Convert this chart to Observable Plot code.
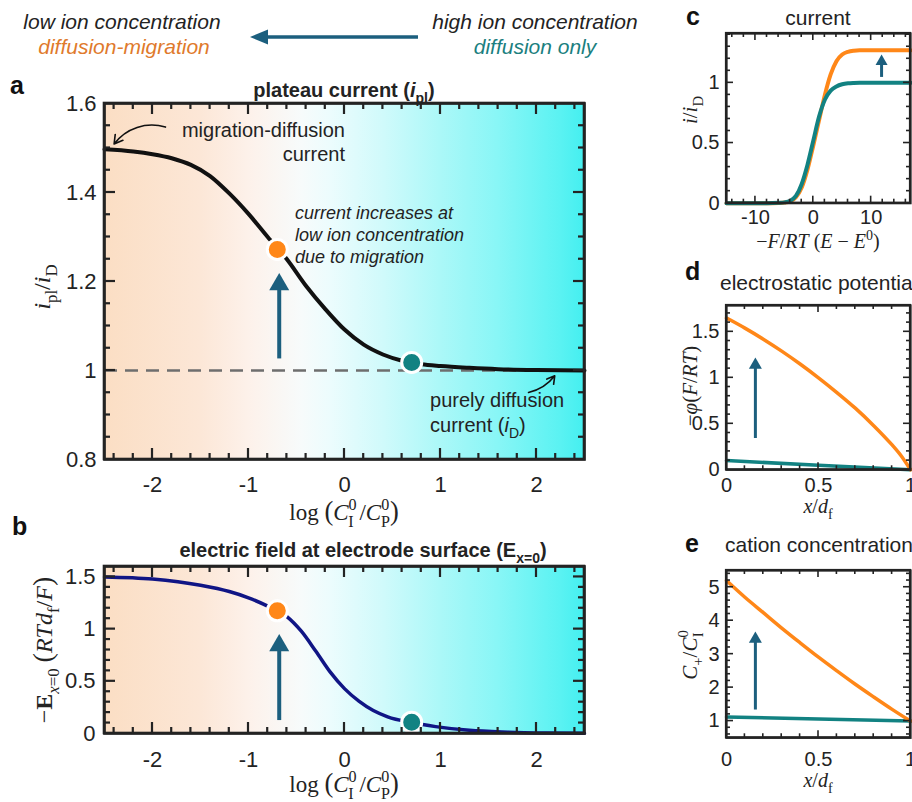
<!DOCTYPE html>
<html><head><meta charset="utf-8">
<script src="https://cdn.jsdelivr.net/npm/d3@7"></script>
<script src="https://cdn.jsdelivr.net/npm/@observablehq/plot@0.6"></script>
<style>
body{margin:0;background:#fff;}
#root{position:relative;width:912px;height:802px;overflow:hidden;background:#fff;}
</style></head><body><div id="root"></div>
<script>
// ---------------- data ----------------
// panel a: plateau current i_pl/i_D vs log(C_I0/C_P0)
const logRatioA = [-2.5,-2.2,-2.0,-1.8,-1.6,-1.4,-1.2,-1.0,-0.8,-0.6,-0.4,-0.2,0,0.2,0.4,0.6,0.8,1.0,1.3,1.6,2.0,2.5];
const plateauA  = [1.497,1.492,1.486,1.477,1.462,1.437,1.398,1.352,1.300,1.250,1.190,1.138,1.092,1.058,1.036,1.022,1.014,1.010,1.006,1.003,1.001,1.000];
const refLineA = [1];
// panel b: electric field at electrode surface
const logRatioB = [-2.5,-2.0,-1.5,-1.2,-1.0,-0.8,-0.6,-0.45,-0.3,-0.15,0,0.15,0.3,0.45,0.7,0.95,1.3,1.7,2.1,2.5];
const fieldB    = [1.50,1.48,1.42,1.36,1.30,1.22,1.12,0.98,0.79,0.59,0.43,0.31,0.22,0.16,0.105,0.066,0.030,0.013,0.005,0.002];
// highlighted cases (low / high ion concentration)
const caseLog = [-0.7, 0.7];
const casePlateau = [1.272, 1.018];
const caseField = [1.175, 0.108];
// panel c: current vs -F/RT (E-E0)
const potentialC   = [-15,-8,-6,-5,-4,-3,-2,-1,0,1,2,3,4,5,6,7,8,10,16.8];
const currentHighC = [0,0,0.003,0.007,0.02,0.06,0.16,0.32,0.52,0.72,0.86,0.935,0.97,0.988,0.996,0.999,1,1,1];
const currentLowC  = [0,0,0.002,0.005,0.015,0.05,0.13,0.28,0.48,0.69,0.90,1.07,1.18,1.235,1.258,1.267,1.27,1.27,1.27];
// panel d: electrostatic potential vs x/d_f
const posD = [0,0.1,0.2,0.3,0.4,0.5,0.6,0.7,0.8,0.9,0.95,1];
const potLowD = [1.65,1.54,1.42,1.29,1.15,1.0,0.84,0.67,0.48,0.27,0.15,0.0];
const posHighD = [0,0.5,1];
const potHighD = [0.10,0.05,0.0];
// panel e: cation concentration vs x/d_f
const posE = [0,0.1,0.2,0.3,0.4,0.5,0.6,0.7,0.8,0.9,1];
const cationLowE = [5.2,4.7,4.24,3.78,3.34,2.91,2.5,2.1,1.72,1.35,1.0];
const posHighE = [0,0.5,1];
const cationHighE = [1.12,1.06,1.0];
// annotation arrows (x, base, tip)
const arrowAX = [-0.68], arrowABase = [1.026], arrowATip = [1.219];
const arrowBX = [-0.68], arrowBBase = [0.124], arrowBTip = [0.953];
const arrowCX = [11.8], arrowCBase = [1.045], arrowCTip = [1.235];
const arrowDX = [0.157], arrowDBase = [0.34], arrowDTip = [1.22];
const arrowEX = [0.157], arrowEBase = [1.33], arrowETip = [3.68];
// tick labels
const xTicksAB = [-2,-1,0,1,2];
const yTicksA = [0.8,1,1.2,1.4,1.6];
const yTicksB = [0,0.5,1,1.5];
const xTicksC = [-10,0,10];
const yTicksC = [0,0.5,1];
const xTicksDE = [0,0.5,1];
const yTicksD = [0,0.5,1,1.5];
const yTicksE = [1,2,3,4,5];
// background gradient (orange = low ion conc., cyan = high)
const bgLog = [-2.5,-1.5,-1.0,-0.45,-0.15,0.4,1.0,1.6,2.25,2.5];
const bgColor = ["#fbdec4","#fce7d7","#fdf1ea","#f7fbfb","#ecfcfd","#d0fafb","#abf8f8","#88f6f6","#5af2f2","#44eff0"];

// ---------------- style ----------------
const SANS = '"Liberation Sans", Arial, Helvetica, sans-serif';
const SERIF = '"Liberation Serif", "Times New Roman", serif';
const INK = "#232323";
const ORANGE = "#ff8718", TEAL = "#128282", NAVY = "#101585", ARROW = "#1c5f7e";
const ns = "http://www.w3.org/2000/svg";
const root = document.getElementById("root");

function minorTicks(domain, step, majors) {
  const n0 = Math.ceil(domain[0] / step - 1e-9), n1 = Math.floor(domain[1] / step + 1e-9);
  return d3.range(n0, n1 + 1).map(i => +(i * step).toFixed(6))
    .filter(v => !majors.some(m => Math.abs(m - v) < 1e-9));
}

// inward box ticks on all four sides, positioned with the plot's own scales
function drawBoxTicks(svg, o) {
  const sx = svg.scale("x"), sy = svg.scale("y");
  const [x0, x1] = o.xDomain, [y0, y1] = o.yDomain;
  const X0 = sx.apply(x0), X1 = sx.apply(x1), Yb = sy.apply(y0), Yt = sy.apply(y1);
  const xMinor = minorTicks(o.xDomain, o.xMinorStep, o.xMajor).filter(v => v > x0 && v < x1);
  const yMinor = minorTicks(o.yDomain, o.yMinorStep, o.yMajor).filter(v => v > y0 && v < y1);
  const xMaj = o.xMajor.filter(v => v > x0 && v < x1);
  const yMaj = o.yMajor.filter(v => v > y0 && v < y1);
  const g = document.createElementNS(ns, "g");
  g.setAttribute("stroke", INK);
  g.setAttribute("stroke-width", o.tickW);
  g.setAttribute("fill", "none");
  const seg = (a, b, c, d) => {
    const l = document.createElementNS(ns, "line");
    l.setAttribute("x1", a); l.setAttribute("y1", b); l.setAttribute("x2", c); l.setAttribute("y2", d);
    g.appendChild(l);
  };
  for (const [vals, len] of [[xMaj, o.majLen], [xMinor, o.minLen]])
    for (const v of vals) { const p = sx.apply(v); seg(p, Yb, p, Yb - len); seg(p, Yt, p, Yt + len); }
  for (const [vals, len] of [[yMaj, o.majLen], [yMinor, o.minLen]])
    for (const v of vals) { const p = sy.apply(v); seg(X0, p, X0 + len, p); seg(X1, p, X1 - len, p); }
  const r = document.createElementNS(ns, "rect");
  r.setAttribute("x", X0); r.setAttribute("y", Yt);
  r.setAttribute("width", X1 - X0); r.setAttribute("height", Yb - Yt);
  r.setAttribute("stroke-width", o.frameW);
  g.appendChild(r);
  svg.appendChild(g);
}

function makePanel(o) {
  const svg = Plot.plot({
    width: o.width, height: o.height,
    marginLeft: o.mL, marginRight: o.mR, marginTop: o.mT, marginBottom: o.mB,
    x: {domain: o.xDomain, axis: null},
    y: {domain: o.yDomain, axis: null},
    style: {fontFamily: SANS, fontSize: o.fontSize + "px", color: INK, background: "transparent", overflow: "visible"},
    marks: [
      o.gradient ? Plot.frame({fill: `url(#${o.gradient})`, stroke: "none"}) : null,
      ...o.marks,
      Plot.frame({stroke: INK, strokeWidth: o.frameW}),
      Plot.axisX({ticks: o.xMajor, tickSize: 0, tickPadding: o.xPad, label: null, tickFormat: d => String(d), fontSize: o.fontSize, fill: INK}),
      Plot.axisY({ticks: o.yMajor, tickSize: 0, tickPadding: o.yPad, label: null, tickFormat: d => String(d), fontSize: o.fontSize, fill: INK})
    ].filter(Boolean)
  });
  svg.style.position = "absolute";
  svg.style.left = o.left + "px";
  svg.style.top = o.top + "px";
  root.appendChild(svg);
  if (o.gradient) addGradient(svg, o.gradient, bgLog, bgColor);
  drawBoxTicks(svg, o);
  return svg;
}

function addGradient(svg, id, xs, colors) {
  const sx = svg.scale("x");
  const x0 = sx.apply(xs[0]), x1 = sx.apply(xs[xs.length - 1]);
  const defs = document.createElementNS(ns, "defs");
  const g = document.createElementNS(ns, "linearGradient");
  g.setAttribute("id", id);
  g.setAttribute("gradientUnits", "userSpaceOnUse");
  g.setAttribute("x1", x0); g.setAttribute("x2", x1);
  g.setAttribute("y1", 0); g.setAttribute("y2", 0);
  xs.forEach((v, i) => {
    const s = document.createElementNS(ns, "stop");
    s.setAttribute("offset", (sx.apply(v) - x0) / (x1 - x0));
    s.setAttribute("stop-color", colors[i]);
    g.appendChild(s);
  });
  defs.appendChild(g);
  svg.insertBefore(defs, svg.firstChild);
}

function rich(parent, x, y, parts, o = {}) {
  const size = o.size || 20;
  const t = document.createElementNS(ns, "text");
  t.setAttribute("x", x); t.setAttribute("y", y);
  if (o.rotate) t.setAttribute("transform", `rotate(${o.rotate} ${x} ${y})`);
  t.setAttribute("font-family", o.family || SANS);
  t.setAttribute("font-size", size);
  t.setAttribute("fill", o.fill || INK);
  t.setAttribute("text-anchor", o.anchor || "start");
  if (o.weight) t.setAttribute("font-weight", o.weight);
  if (o.style) t.setAttribute("font-style", o.style);
  let shift = 0;
  for (const p of parts) {
    const s = document.createElementNS(ns, "tspan");
    const target = p.sub ? size * 0.3 : p.sup ? -size * 0.42 : 0;
    const dy = target - shift; shift = target;
    if (dy) s.setAttribute("dy", dy);
    if (p.dx) s.setAttribute("dx", p.dx);
    if (p.sub || p.sup) s.setAttribute("font-size", size * 0.7);
    if (p.size) s.setAttribute("font-size", p.size);
    if (p.i) s.setAttribute("font-style", "italic");
    if (p.n) s.setAttribute("font-style", "normal");
    if (p.b) s.setAttribute("font-weight", "bold");
    if (p.fill) s.setAttribute("fill", p.fill);
    s.textContent = p.t;
    t.appendChild(s);
  }
  parent.appendChild(t);
  return t;
}
function richAt(svg, xv, yv, parts, o) {
  return rich(svg, svg.scale("x").apply(xv), svg.scale("y").apply(yv), parts, o);
}
function arrowMarks(X, base, tip, side, width) {
  return [
    Plot.ruleX(X, {x: X, y1: tip, y2: base, stroke: ARROW, strokeWidth: width, insetTop: side * 0.5}),
    Plot.dot(X, {x: X, y: tip, symbol: "triangle", r: side * 0.3713, dy: side / Math.sqrt(3), fill: ARROW, stroke: "none"})
  ];
}

// ---------------- panel a ----------------
const svgA = makePanel({
  left: 0, top: 70, width: 600, height: 440, mL: 104, mR: 16, mT: 33, mB: 51,
  xDomain: [-2.5, 2.5], yDomain: [0.8, 1.6], xMajor: xTicksAB, yMajor: yTicksA,
  xMinorStep: 0.2, yMinorStep: 0.05, majLen: 11, minLen: 6, tickW: 2.2, frameW: 2.6,
  fontSize: 22, xPad: 17, yPad: 8, gradient: "gradA",
  marks: [
    Plot.ruleY(refLineA, {y: d => d, stroke: "#6e6e6e", strokeWidth: 2.5, strokeDasharray: "13,8"}),
    Plot.line(plateauA, {x: logRatioA, y: plateauA, stroke: "#111", strokeWidth: 4, curve: "monotone-x"}),
    ...arrowMarks(arrowAX, arrowABase, arrowATip, 20, 4),
    Plot.dot([0], {x: [caseLog[0]], y: [casePlateau[0]], r: 10, fill: ORANGE, stroke: "white", strokeWidth: 3}),
    Plot.dot([0], {x: [caseLog[1]], y: [casePlateau[1]], r: 10, fill: TEAL, stroke: "white", strokeWidth: 3}),
    Plot.arrow([0], {x1: [-1.865], y1: [1.547], x2: [-2.40], y2: [1.509], bend: -35, stroke: "#111", strokeWidth: 1.6, headLength: 9}),
    Plot.arrow([0], {x1: [1.917], y1: [0.9506], x2: [2.19], y2: [0.988], bend: -20, stroke: "#111", strokeWidth: 1.6, headLength: 8})
  ]
});
richAt(svgA, 0.01, 1.5236, [{t: "migration-diffusion"}], {anchor: "end", size: 20});
richAt(svgA, 0.01, 1.4697, [{t: "current"}], {anchor: "end", size: 20});
richAt(svgA, -0.51, 1.339, [{t: "current increases at"}], {size: 18, style: "italic"});
richAt(svgA, -0.51, 1.290, [{t: "low ion concentration"}], {size: 18, style: "italic"});
richAt(svgA, -0.51, 1.2404, [{t: "due to migration"}], {size: 18, style: "italic"});
richAt(svgA, 0.896, 0.9175, [{t: "purely diffusion"}], {size: 20});
richAt(svgA, 0.896, 0.8614, [{t: "current ("}, {t: "i", i: 1}, {t: "D", sub: 1}, {t: ")"}], {size: 20});

// ---------------- panel b ----------------
makePanel({
  left: 0, top: 530, width: 600, height: 240, mL: 104, mR: 16, mT: 36, mB: 37,
  xDomain: [-2.5, 2.5], yDomain: [0, 1.6], xMajor: xTicksAB, yMajor: yTicksB,
  xMinorStep: 0.2, yMinorStep: 0.1, majLen: 11, minLen: 6, tickW: 2.2, frameW: 2.6,
  fontSize: 22, xPad: 18, yPad: 9, gradient: "gradB",
  marks: [
    Plot.line(fieldB, {x: logRatioB, y: fieldB, stroke: NAVY, strokeWidth: 3.5, curve: "monotone-x"}),
    ...arrowMarks(arrowBX, arrowBBase, arrowBTip, 20, 4),
    Plot.dot([0], {x: [caseLog[0]], y: [caseField[0]], r: 10, fill: ORANGE, stroke: "white", strokeWidth: 3}),
    Plot.dot([0], {x: [caseLog[1]], y: [caseField[1]], r: 10, fill: TEAL, stroke: "white", strokeWidth: 3})
  ]
});

// ---------------- panel c ----------------
makePanel({
  left: 680, top: 0, width: 250, height: 240, mL: 46, mR: 20, mT: 33, mB: 37.3,
  xDomain: [-15, 16.8], yDomain: [0, 1.41], xMajor: xTicksC, yMajor: yTicksC,
  xMinorStep: 2, yMinorStep: 0.1, majLen: 7, minLen: 4, tickW: 1.6, frameW: 2.2,
  fontSize: 20, xPad: 7, yPad: 7,
  marks: [
    Plot.line(currentLowC, {x: potentialC, y: currentLowC, stroke: ORANGE, strokeWidth: 4, curve: "monotone-x"}),
    Plot.line(currentHighC, {x: potentialC, y: currentHighC, stroke: TEAL, strokeWidth: 4, curve: "monotone-x"}),
    ...arrowMarks(arrowCX, arrowCBase, arrowCTip, 12, 3)
  ]
});

// ---------------- panel d ----------------
makePanel({
  left: 680, top: 260, width: 250, height: 250, mL: 46, mR: 20, mT: 45, mB: 40.7,
  xDomain: [0, 1], yDomain: [0, 1.786], xMajor: xTicksDE, yMajor: yTicksD,
  xMinorStep: 0.1, yMinorStep: 0.1, majLen: 7, minLen: 4, tickW: 1.6, frameW: 2.2,
  fontSize: 20, xPad: 8, yPad: 7,
  marks: [
    Plot.line(potHighD, {x: posHighD, y: potHighD, stroke: TEAL, strokeWidth: 3.5}),
    Plot.line(potLowD, {x: posD, y: potLowD, stroke: ORANGE, strokeWidth: 3.5, curve: "monotone-x"}),
    ...arrowMarks(arrowDX, arrowDBase, arrowDTip, 13, 3)
  ]
});

// ---------------- panel e ----------------
makePanel({
  left: 680, top: 520, width: 250, height: 282, mL: 46, mR: 20, mT: 50, mB: 64.7,
  xDomain: [0, 1], yDomain: [0.5, 5.5], xMajor: xTicksDE, yMajor: yTicksE,
  xMinorStep: 0.1, yMinorStep: 0.2, majLen: 7, minLen: 4, tickW: 1.6, frameW: 2.2,
  fontSize: 20, xPad: 14, yPad: 7,
  marks: [
    Plot.line(cationHighE, {x: posHighE, y: cationHighE, stroke: TEAL, strokeWidth: 3.5}),
    Plot.line(cationLowE, {x: posE, y: cationLowE, stroke: ORANGE, strokeWidth: 3.5, curve: "monotone-x"}),
    ...arrowMarks(arrowEX, arrowEBase, arrowETip, 13, 3)
  ]
});

// ---------------- overlay: header, titles, labels ----------------
const ov = document.createElementNS(ns, "svg");
ov.setAttribute("width", 912); ov.setAttribute("height", 802);
ov.style.position = "absolute"; ov.style.left = "0"; ov.style.top = "0"; ov.style.overflow = "visible";
ov.style.pointerEvents = "none";
root.appendChild(ov);

// header
rich(ov, 122, 29, [{t: "low ion concentration"}], {anchor: "middle", size: 21, style: "italic"});
rich(ov, 124, 54, [{t: "diffusion-migration"}], {anchor: "middle", size: 21, style: "italic", fill: "#e07a2c"});
rich(ov, 535, 29, [{t: "high ion concentration"}], {anchor: "middle", size: 21, style: "italic"});
rich(ov, 535, 54, [{t: "diffusion only"}], {anchor: "middle", size: 21, style: "italic", fill: "#1b7f7f"});
{
  const l = document.createElementNS(ns, "line");
  l.setAttribute("x1", 418); l.setAttribute("x2", 264); l.setAttribute("y1", 37); l.setAttribute("y2", 37);
  l.setAttribute("stroke", ARROW); l.setAttribute("stroke-width", 3.5);
  ov.appendChild(l);
  const p = document.createElementNS(ns, "path");
  p.setAttribute("d", "M250,37 L268,29.5 L268,44.5 Z");
  p.setAttribute("fill", ARROW);
  ov.appendChild(p);
}

// panel letters
for (const [t, x, y] of [["a", 10, 94], ["b", 12, 535], ["c", 686, 25], ["d", 685, 280], ["e", 685, 552]])
  rich(ov, x, y, [{t}], {size: 25, weight: "bold", fill: "#111"});

// titles
rich(ov, 344, 97, [{t: "plateau current ("}, {t: "i", i: 1}, {t: "pl", sub: 1}, {t: ")"}], {anchor: "middle", size: 20, weight: "bold"});
rich(ov, 363, 557, [{t: "electric field at electrode surface (E"}, {t: "x=0", sub: 1}, {t: ")"}], {anchor: "middle", size: 20, weight: "bold"});
rich(ov, 818, 25, [{t: "current"}], {anchor: "middle", size: 21});
rich(ov, 720, 290, [{t: "electrostatic potential"}], {size: 21});
rich(ov, 725, 552, [{t: "cation concentration"}], {size: 21});

// axis labels (math style)
const logLabel = (s) => [
  {t: "log "}, {t: "(", size: s * 1.15}, {t: "C", i: 1}, {t: "0", sup: 1}, {t: "I", sub: 1, dx: -s * 0.36},
  {t: " /"}, {t: "C", i: 1}, {t: "0", sup: 1}, {t: "P", sub: 1, dx: -s * 0.36}, {t: ")", size: s * 1.15}
];
rich(ov, 344, 520, logLabel(23), {anchor: "middle", size: 23, family: SERIF});
rich(ov, 344, 792, logLabel(23), {anchor: "middle", size: 23, family: SERIF});
rich(ov, 50, 287, [{t: "i", i: 1}, {t: "pl", sub: 1}, {t: "/"}, {t: "i", i: 1}, {t: "D", sub: 1}], {anchor: "middle", size: 24, family: SERIF, rotate: -90});
rich(ov, 52, 650, [{t: "\u2212"}, {t: "E", b: 1}, {t: "x", sub: 1, i: 1}, {t: "=0", sub: 1}, {t: " "}, {t: "(", size: 28},
  {t: "RTd", i: 1}, {t: "f", sub: 1}, {t: "/"}, {t: "F", i: 1}, {t: ")", size: 28}], {anchor: "middle", size: 24, family: SERIF, rotate: -90});
rich(ov, 818, 248, [{t: "\u2212"}, {t: "F", i: 1}, {t: "/"}, {t: "RT", i: 1}, {t: " ("}, {t: "E", i: 1}, {t: " \u2212 "}, {t: "E", i: 1}, {t: "0", sup: 1}, {t: ")"}],
  {anchor: "middle", size: 20, family: SERIF});
rich(ov, 697, 110, [{t: "i", i: 1}, {t: "/"}, {t: "i", i: 1}, {t: "D", sub: 1}], {anchor: "middle", size: 21, family: SERIF, rotate: -90});
rich(ov, 818, 513, [{t: "x", i: 1}, {t: "/"}, {t: "d", i: 1}, {t: "f", sub: 1}], {anchor: "middle", size: 20, family: SERIF});
rich(ov, 697, 386, [{t: "\u2212"}, {t: "\u03c6", i: 1}, {t: "("}, {t: "F", i: 1}, {t: "/"}, {t: "RT", i: 1}, {t: ")"}], {anchor: "middle", size: 21, family: SERIF, rotate: -90});
rich(ov, 818, 787, [{t: "x", i: 1}, {t: "/"}, {t: "d", i: 1}, {t: "f", sub: 1}], {anchor: "middle", size: 20, family: SERIF});
rich(ov, 697, 655, [{t: "C", i: 1}, {t: "+", sub: 1}, {t: "/"}, {t: "C", i: 1}, {t: "0", sup: 1}, {t: "I", sub: 1, dx: -7}], {anchor: "middle", size: 21, family: SERIF, rotate: -90});
</script>
</body></html>
